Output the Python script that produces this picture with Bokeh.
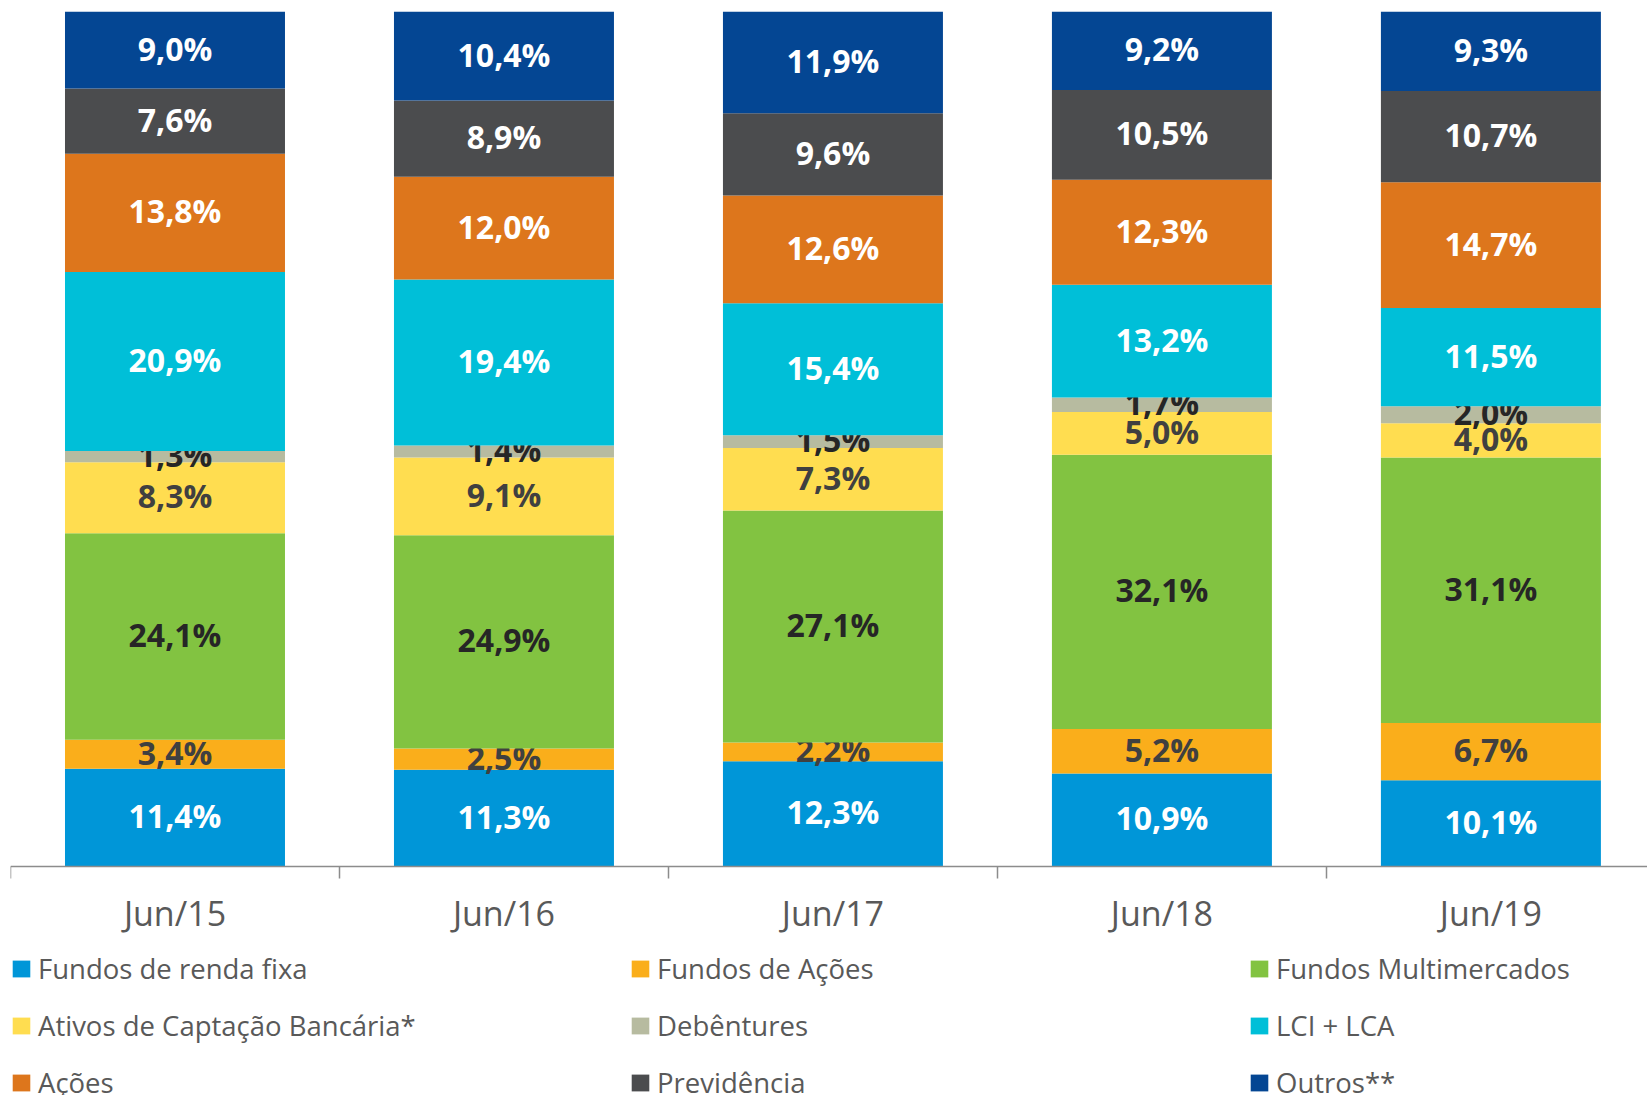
import numpy as np
from bokeh.plotting import figure
from bokeh.models import (ColumnDataSource, Range1d, FixedTicker, Legend, LegendItem)
from bokeh.core.properties import value
from bokeh.embed import file_html
from bokeh.resources import INLINE

categories = ["Jun/15", "Jun/16", "Jun/17", "Jun/18", "Jun/19"]

renda_fixa = [11.4, 11.3, 12.3, 10.9, 10.1]
fundos_acoes = [3.4, 2.5, 2.2, 5.2, 6.7]
multimercados = [24.1, 24.9, 27.1, 32.1, 31.1]
ativos_bancarios = [8.3, 9.1, 7.3, 5.0, 4.0]
debentures = [1.3, 1.4, 1.5, 1.7, 2.0]
lci_lca = [20.9, 19.4, 15.4, 13.2, 11.5]
acoes = [13.8, 12.0, 12.6, 12.3, 14.7]
previdencia = [7.6, 8.9, 9.6, 10.5, 10.7]
outros = [9.0, 10.4, 11.9, 9.2, 9.3]

series_names = ["Fundos de renda fixa", "Fundos de Ações", "Fundos Multimercados",
                "Ativos de Captação Bancária*", "Debêntures", "LCI + LCA",
                "Ações", "Previdência", "Outros**"]
series_values = [renda_fixa, fundos_acoes, multimercados, ativos_bancarios, debentures,
                 lci_lca, acoes, previdencia, outros]
series_colors = ["#0096D8", "#FAAE1B", "#82C341", "#FFDD50", "#B7BBA0",
                 "#00BFD8", "#DD761C", "#4B4C4E", "#044693"]
label_colors = ["white", "#404040", "#262626", "#404040", "#262626",
                "white", "white", "white", "white"]

FONT = "Open Sans"

# frame spans the full height; the category axis sits at y = 0
p = figure(width=1647, height=1095, output_backend="svg", toolbar_location=None,
           x_range=Range1d(-0.5, 4.476), y_range=Range1d(-0.2678, 1),
           y_axis_location=None, min_border_left=10, min_border_right=0,
           min_border_top=11, min_border_bottom=0)
p.xgrid.visible = False
p.ygrid.visible = False
p.outline_line_color = None
p.background_fill_color = "white"
p.border_fill_color = "white"

vals = np.array(series_values, dtype=float)
totals = vals.sum(axis=0)
shares = vals / totals
tops = np.cumsum(shares, axis=0)
bottoms = tops - shares
xs = list(range(len(categories)))

renderers = []
for i, name in enumerate(series_names):
    src = ColumnDataSource(dict(
        x=xs,
        bottom=bottoms[i],
        top=tops[i],
        mid=(bottoms[i] + tops[i]) / 2,
        label=[f"{v:.1f}".replace(".", ",") + "%" for v in series_values[i]],
    ))
    r = p.vbar(x="x", width=0.6687, bottom="bottom", top="top", source=src,
               fill_color=series_colors[i], line_color=None)
    renderers.append(r)
    p.text(x="x", y="mid", text="label", source=src, text_align="center",
           text_baseline="middle", y_offset=-2, text_font=value(FONT),
           text_font_style="bold", text_font_size="32px",
           text_color=label_colors[i])

ax = p.xaxis[0]
ax.fixed_location = 0
ax.ticker = FixedTicker(ticks=xs, minor_ticks=[x - 0.5 for x in xs] + [len(xs) - 0.5])
ax.major_label_overrides = {i: c for i, c in enumerate(categories)}
ax.major_tick_line_color = None
ax.major_tick_in = 0
ax.major_tick_out = 0
ax.minor_tick_in = 0
ax.minor_tick_out = 12
ax.minor_tick_line_color = "#8C8C8C"
ax.minor_tick_line_width = 1.5
ax.axis_line_color = "#8C8C8C"
ax.axis_line_width = 1.5
ax.major_label_text_font = FONT
ax.major_label_text_font_size = "34px"
ax.major_label_text_color = "#595959"
ax.major_label_standoff = 11

legend = Legend(items=[LegendItem(label=series_names[k], renderers=[renderers[k]])
                       for k in range(9)],
                location=(0, -6), orientation="horizontal", ncols=3,
                padding=0, margin=0, spacing=20, border_line_color=None,
                background_fill_alpha=0, glyph_width=22, glyph_height=21,
                label_height=20, label_width=571, label_standoff=6,
                label_text_font=FONT, label_text_font_size="27.5px",
                label_text_color="#595959")
p.add_layout(legend, "center")

open("out.html", "w").write(file_html(p, INLINE))
